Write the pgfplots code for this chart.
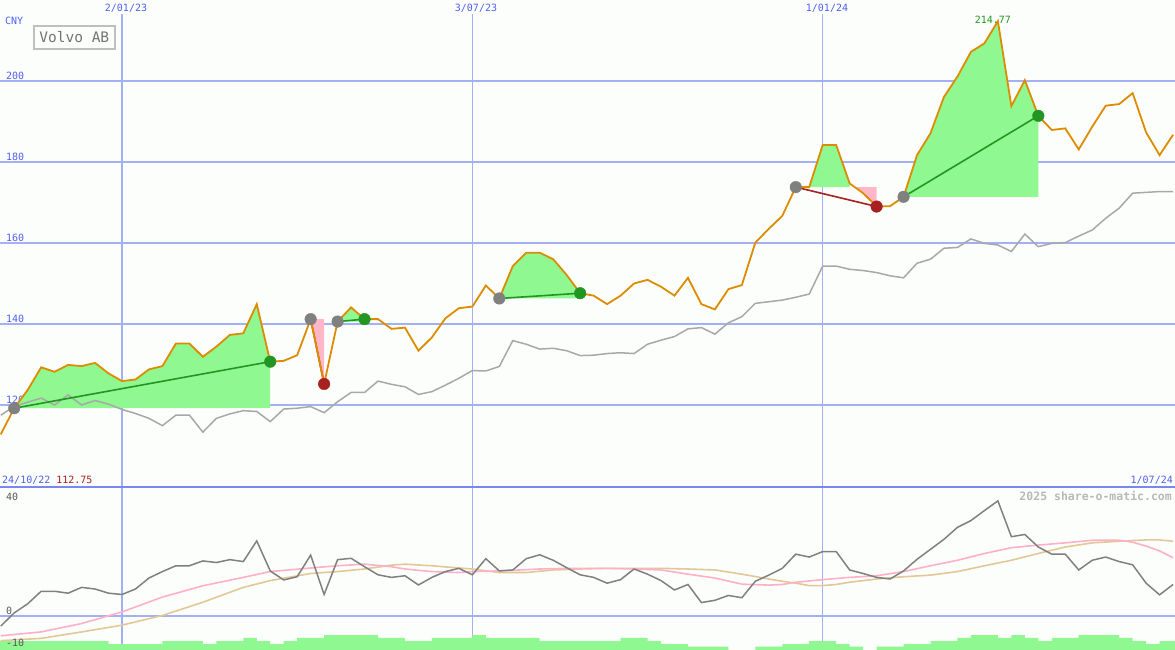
\documentclass[border=0pt]{standalone}
\usepackage{fontspec}
\setmainfont{DejaVu Sans Mono}
\usepackage{pgfplots}
\usepackage{pgfplotstable}
\pgfplotsset{compat=1.18}

\definecolor{gridc}{RGB}{164,176,244}
\definecolor{sepc}{RGB}{120,136,238}
\definecolor{labc}{RGB}{80,96,240}
\definecolor{pricec}{RGB}{221,140,0}
\definecolor{idxc}{RGB}{168,168,168}
\definecolor{fillg}{RGB}{144,248,144}
\definecolor{fillp}{RGB}{255,182,200}
\definecolor{tradeg}{RGB}{34,150,34}
\definecolor{trader}{RGB}{168,32,32}
\definecolor{entryc}{RGB}{128,128,128}
\definecolor{oscc}{RGB}{128,128,128}
\definecolor{ma1c}{RGB}{255,176,200}
\definecolor{ma2c}{RGB}{226,200,150}
\definecolor{bgc}{RGB}{252,254,252}
\definecolor{wmc}{RGB}{184,184,184}

% weekly data, k = weeks from 2/01/23
\pgfplotstableread{
k price idx
-9 112.75 117.5
-8 119.2 119.6
-7 123.7 120.7
-6 129.3 121.7
-5 128.2 120.0
-4 129.9 122.5
-3 129.6 120.0
-2 130.4 121.1
-1 127.8 120.2
0 125.9 118.9
1 126.3 117.9
2 128.8 116.7
3 129.6 114.9
4 135.2 117.5
5 135.2 117.5
6 131.9 113.3
7 134.4 116.7
8 137.3 117.8
9 137.7 118.6
10 144.9 118.4
11 130.7 115.9
12 130.9 119.0
13 132.3 119.2
14 141.2 119.6
15 125.2 118.1
16 140.6 120.8
17 144.1 123.1
18 141.2 123.1
19 141.2 125.9
20 138.8 125.1
21 139.1 124.5
22 133.4 122.6
23 136.7 123.3
24 141.4 124.9
25 143.9 126.6
26 144.3 128.5
27 149.5 128.4
28 146.3 129.5
29 154.3 135.9
30 157.6 135.0
31 157.6 133.8
32 156.0 134.0
33 152.1 133.4
34 147.6 132.2
35 147.0 132.3
36 144.9 132.7
37 147.0 132.9
38 150.0 132.7
39 150.9 135.0
40 149.2 136.0
41 147.0 136.9
42 151.4 138.8
43 144.9 139.1
44 143.6 137.5
45 148.6 140.3
46 149.6 141.8
47 160.1 145.1
48 163.5 145.5
49 166.7 145.9
50 173.8 146.6
51 173.8 147.4
52 184.2 154.3
53 184.2 154.3
54 174.7 153.5
55 172.3 153.2
56 169.0 152.7
57 169.1 151.9
58 171.4 151.4
59 181.7 155.0
60 187.1 156.0
61 196.1 158.7
62 201.1 158.9
63 207.2 161.0
64 209.3 159.9
65 214.77 159.5
66 193.8 157.9
67 200.2 162.2
68 191.4 159.1
69 187.9 159.9
70 188.3 160.1
71 183.1 161.7
72 188.7 163.2
73 193.9 166.1
74 194.3 168.6
75 197.0 172.3
76 187.3 172.5
77 181.7 172.7
78 186.7 172.7
}\pricetab

\pgfplotstableread{
k osc
-9 -3.1
-8 1.0
-7 3.8
-6 7.7
-5 7.7
-4 7.1
-3 8.9
-2 8.4
-1 7.1
0 6.7
1 8.4
2 11.8
3 13.8
4 15.6
5 15.6
6 17.1
7 16.6
8 17.5
9 16.9
10 23.3
11 14.0
12 11.2
13 12.2
14 18.9
15 6.7
16 17.5
17 17.9
18 15.3
19 12.8
20 12.0
21 12.5
22 9.65
23 12.0
24 13.8
25 14.8
26 12.8
27 17.8
28 14.0
29 14.3
30 17.8
31 19.0
32 17.3
33 15.0
34 12.8
35 12.0
36 10.2
37 11.3
38 14.6
39 13.0
40 11.0
41 8.1
42 9.8
43 4.2
44 4.9
45 6.4
46 5.7
47 10.8
48 12.7
49 14.8
50 19.2
51 18.3
52 20.0
53 20.0
54 14.3
55 13.2
56 12.0
57 11.5
58 14.0
59 17.6
60 20.7
61 23.8
62 27.5
63 29.6
64 32.7
65 35.7
66 24.6
67 25.3
68 21.4
69 19.2
70 19.2
71 14.3
72 17.3
73 18.3
74 16.9
75 15.9
76 10.2
77 6.6
78 9.8
}\osctab

\pgfplotstableread{
k ma
-9 -6.1
-6 -4.9
-3 -2.3
0 1.3
3 5.9
6 9.4
9 12.0
11 13.8
14 14.9
16 15.6
18 16.1
20 15.3
21 14.6
23 13.8
25 13.5
26 13.8
28 14.0
31 14.6
33 14.8
36 14.8
38 14.6
40 14.3
42 13.0
44 11.8
46 9.9
48 9.6
49 9.8
50 10.5
52 11.3
54 12.0
56 12.5
58 13.8
60 15.6
62 17.3
64 19.4
66 21.2
68 22.0
70 22.7
72 23.5
74 23.5
75 22.9
76 21.7
77 20.2
78 18.1
}\mafast

\pgfplotstableread{
k ma
-9 -7.6
-6 -6.9
-3 -4.9
0 -2.8
3 0.2
6 4.3
9 8.9
11 11.0
14 13.2
16 13.8
18 14.6
20 15.8
21 16.1
23 15.6
25 14.9
26 14.6
28 13.5
30 13.5
32 14.3
34 14.6
36 14.8
40 14.8
42 14.6
44 14.3
46 13.0
48 11.5
49 10.8
50 10.2
51 9.45
52 9.45
53 9.8
54 10.5
56 11.5
58 12.2
60 12.7
62 13.8
64 15.6
66 17.3
68 19.4
70 21.4
72 22.7
74 23.2
76 23.6
77 23.6
78 23.2
}\maslow

% volume steps, drawn in the lower panel's units
\pgfplotstableread{
k v
-9.06 -10.5
-9.06 -7.73
-1 -8.65
3 -7.73
6 -8.65
7 -7.73
9 -6.72
10 -7.73
11 -8.65
12 -7.73
13 -6.72
15 -5.89
19 -6.72
21 -7.73
23 -6.72
26 -5.89
27 -6.72
31 -7.73
37 -6.72
39 -7.73
40 -8.65
42 -9.48
45 -10.5
47 -9.48
49 -8.65
51 -7.73
53 -8.65
54 -9.48
55 -10.5
56 -9.48
58 -8.65
60 -7.73
62 -6.72
63 -5.89
65 -6.72
66 -5.89
67 -6.72
68 -7.73
69 -6.72
71 -5.89
74 -6.72
75 -7.73
76 -8.65
77 -7.73
78.2 -7.73
78.2 -10.5
}\voltab

\newcommand{\tk}{\fontsize{10pt}{12pt}\selectfont}

\pgfplotsset{
  panel/.style={
    scale only axis, width=1175pt,
    xmin=-9.054, xmax=78.14,
    axis line style={draw=none},
    major tick length=0pt,
    xtick={0,26,52}, xticklabels={}, yticklabels={},
    xmajorgrids, ymajorgrids,
    x grid style={gridc, line width=1.2pt},
    y grid style={gridc, line width=1.8pt},
    clip mode=individual,
  },
}
\tikzset{ylab/.style={anchor=south west, inner sep=1pt, xshift=5pt, font=\tk}}

\begin{document}
\begin{tikzpicture}
\useasboundingbox (0pt,-650pt) rectangle (1175pt,0pt);
\fill[bgc] (0pt,-650pt) rectangle (1175pt,0pt);

\begin{axis}[panel, at={(0pt,0pt)}, anchor=north west, height=487pt,
  ymin=99.75, ymax=220, ytick={120,140,...,200}]
  \node[ylab, labc] at (axis cs:-9.054,120) {120};
  \node[ylab, labc] at (axis cs:-9.054,140) {140};
  \node[ylab, labc] at (axis cs:-9.054,160) {160};
  \node[ylab, labc] at (axis cs:-9.054,180) {180};
  \node[ylab, labc] at (axis cs:-9.054,200) {200};

  % trade areas
  \addplot[fill=fillg, draw=none] coordinates {(-8,119.2) (-7,123.7) (-6,129.3) (-5,128.2)
    (-4,129.9) (-3,129.6) (-2,130.4) (-1,127.8) (0,125.9) (1,126.3) (2,128.8) (3,129.6)
    (4,135.2) (5,135.2) (6,131.9) (7,134.4) (8,137.3) (9,137.7) (10,144.9) (11,130.7) (11,119.2)};
  \addplot[fill=fillp, draw=none] coordinates {(14,141.2) (15,125.2) (15,141.2)};
  \addplot[fill=fillg, draw=none] coordinates {(16,140.6) (17,144.1) (18,141.2) (18,140.6)};
  \addplot[fill=fillg, draw=none] coordinates {(28,146.3) (29,154.3) (30,157.6) (31,157.6)
    (32,156.0) (33,152.1) (34,147.6) (34,146.3)};
  \addplot[fill=fillg, draw=none] coordinates {(50,173.8) (51,173.8) (52,184.2) (53,184.2)
    (54,174.7) (54,173.8)};
  \addplot[fill=fillp, draw=none] coordinates {(54.38,173.8) (55,172.3) (56,169.0) (56,173.8)};
  \addplot[fill=fillg, draw=none] coordinates {(58,171.4) (59,181.7) (60,187.1) (61,196.1)
    (62,201.1) (63,207.2) (64,209.3) (65,214.77) (66,193.8) (67,200.2) (68,191.4) (68,171.4)};

  \addplot[idxc, line width=1.5pt] table[x=k, y=idx] {\pricetab};

  % entry to exit lines
  \addplot[tradeg, line width=1.6pt] coordinates {(-8,119.2) (11,130.7)};
  \addplot[trader, line width=1.6pt] coordinates {(14,141.2) (15,125.2)};
  \addplot[tradeg, line width=1.6pt] coordinates {(16,140.6) (18,141.2)};
  \addplot[tradeg, line width=1.6pt] coordinates {(28,146.3) (34,147.6)};
  \addplot[trader, line width=1.6pt] coordinates {(50,173.8) (56,169.0)};
  \addplot[tradeg, line width=1.6pt] coordinates {(58,171.4) (68,191.4)};

  \addplot[pricec, line width=1.8pt] table[x=k, y=price] {\pricetab};

  \addplot[only marks, mark=*, mark size=5.8pt, entryc] coordinates {(-8,119.2) (14,141.2)
    (16,140.6) (28,146.3) (50,173.8) (58,171.4)};
  \addplot[only marks, mark=*, mark size=5.8pt, tradeg] coordinates {(11,130.7) (18,141.2)
    (34,147.6) (68,191.4)};
  \addplot[only marks, mark=*, mark size=5.8pt, trader] coordinates {(15,125.2) (56,169.0)};

  \node[anchor=south, inner sep=0pt, xshift=-5pt, yshift=-2.5pt, font=\tk, tradeg]
    at (axis cs:65,214.77) {214.77};
\end{axis}

\begin{axis}[panel, at={(0pt,-487pt)}, anchor=north west, height=163pt,
  ymin=-10.5, ymax=40, ytick={0}]
  \addplot[fill=fillg, draw=none, const plot mark left] table[x=k, y=v] {\voltab};
  \addplot[ma2c, line width=1.6pt] table[x=k, y=ma] {\maslow};
  \addplot[ma1c, line width=1.6pt] table[x=k, y=ma] {\mafast};
  \addplot[oscc, line width=1.5pt] table[x=k, y=osc] {\osctab};
  \node[anchor=north west, inner sep=1pt, xshift=5pt, yshift=-5pt, font=\tk, black!65]
    at (axis cs:-9.054,40) {40};
  \node[ylab, black!65] at (axis cs:-9.054,0) {0};
  \node[ylab, black!65, yshift=2pt] at (axis cs:-9.054,-10.5) {-10};
\end{axis}

\fill[bgc] (0pt,0pt) rectangle (1175pt,-14pt);
\node[anchor=base, labc, font=\tk] at (126pt,-12pt) {2/01/23};
\node[anchor=base, labc, font=\tk] at (476pt,-12pt) {3/07/23};
\node[anchor=base, labc, font=\tk] at (827pt,-12pt) {1/01/24};
\node[anchor=base west, labc, font=\tk, inner sep=0pt] at (5pt,-25pt) {CNY};
\node[anchor=north west, draw=black!25, line width=1.6pt, text=black!55, inner xsep=3pt,
  inner ysep=3pt, minimum width=81pt, minimum height=23pt,
  font=\fontsize{14.5pt}{16pt}\selectfont] at (33pt,-25pt) {Volvo AB};
\node[anchor=base west, inner sep=0pt, font=\tk] at (2pt,-483pt)
  {\textcolor{labc}{24/10/22} \textcolor{trader}{112.75}};
\node[anchor=base east, inner sep=0pt, font=\tk, labc] at (1173pt,-483pt) {1/07/24};
\node[anchor=base east, inner sep=0pt, text=wmc, font=\fontsize{11.5pt}{13pt}\selectfont\bfseries]
  at (1172pt,-500pt) {2025 share-o-matic.com};
\draw[sepc, line width=2.6pt] (0pt,-487pt) -- (1175pt,-487pt);
\end{tikzpicture}
\end{document}
